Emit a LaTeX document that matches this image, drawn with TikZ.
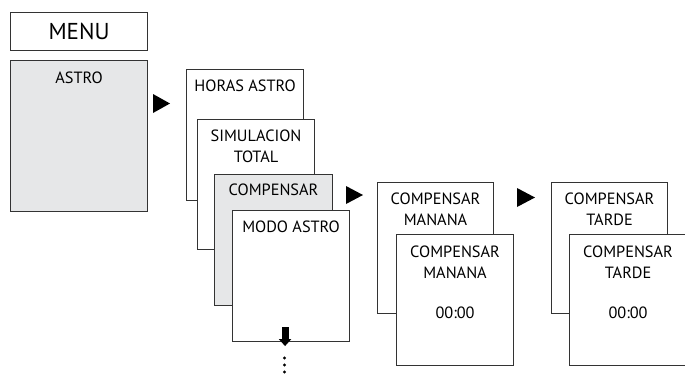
\documentclass[tikz,border=0pt]{standalone}
\usepackage{fontspec}
\setmainfont{PT Sans}
\usetikzlibrary{arrows.meta, positioning}
\definecolor{linec}{HTML}{333333}
\definecolor{panel}{HTML}{E6E7E8}
\tikzset{
  box/.style={rectangle, draw=linec, line width=1.1pt, fill=white, anchor=north west, inner sep=0pt, minimum width=117pt, minimum height=131pt},
  txt/.style={inner sep=0pt, align=center, text=black, font=\fontsize{16.3}{20.5}\selectfont},
  pointer/.style={fill=black},
}

\begin{document}
\begin{tikzpicture}[x=1pt, y=-1pt]
    \useasboundingbox (0,0) rectangle (685,373);
    % main menu
    \node[box, minimum width=137pt, minimum height=38pt] (menu) at (10,12) {};
    \node[txt, font=\fontsize{23}{26}\selectfont] (menut) at (menu.center) {MENU};
    \node[box, fill=panel, minimum width=137pt, minimum height=151pt] (astro) at (10,60) {};
    \node[txt, below=12pt of astro.north] (astrot) {ASTRO};
    % astro submenu
    \node[box] (horas) at (186,69) {};
    \node[txt, below=11pt of horas.north] (horast) {HORAS ASTRO};
    \node[box, minimum height=130pt] (simul) at (197,119) {};
    \node[txt, below=11pt of simul.north] (simult) {SIMULACION\\TOTAL};
    \node[box, fill=panel, minimum width=118pt] (comp) at (214,174) {};
    \node[txt, below=10pt of comp.north] (compt) {COMPENSAR};
    \node[box] (modo) at (232,210) {};
    \node[txt, below=11pt of modo.north] (modot) {MODO ASTRO};
    % morning offset
    \node[box, minimum width=116pt] (manb) at (377,182) {};
    \node[txt, below=11pt of manb.north] (manbt) {COMPENSAR\\MANANA};
    \node[box] (manf) at (396,234) {};
    \node[txt, below=12pt of manf.north] (manft) {COMPENSAR\\MANANA};
    \node[txt, below=73pt of manf.north] (manv) {00:00};
    % evening offset
    \node[box, minimum width=116pt] (tarb) at (551,182) {};
    \node[txt, below=11pt of tarb.north] (tarbt) {COMPENSAR\\TARDE};
    \node[box] (tarf) at (569,234) {};
    \node[txt, below=12pt of tarf.north] (tarft) {COMPENSAR\\TARDE};
    \node[txt, below=73pt of tarf.north] (tarv) {00:00};
    % pointers
    \fill[pointer] (153,94) -- (170,103.5) -- (153,113) -- cycle;
    \fill[pointer] (346,186) -- (363,195) -- (346,204) -- cycle;
    \fill[pointer] (517,188) -- (535,197.5) -- (517,207) -- cycle;
    % more entries below
    \coordinate (down) at ([xshift=-6pt, yshift=-4pt]modo.south);
    \draw[line width=7pt, -{Triangle[width=12pt, length=7pt]}] ([yshift=19pt]down) -- (down);
    \foreach \y in {358,365,372}
      \fill (284.5,\y) circle (1.6pt);
  \end{tikzpicture}
\end{document}
